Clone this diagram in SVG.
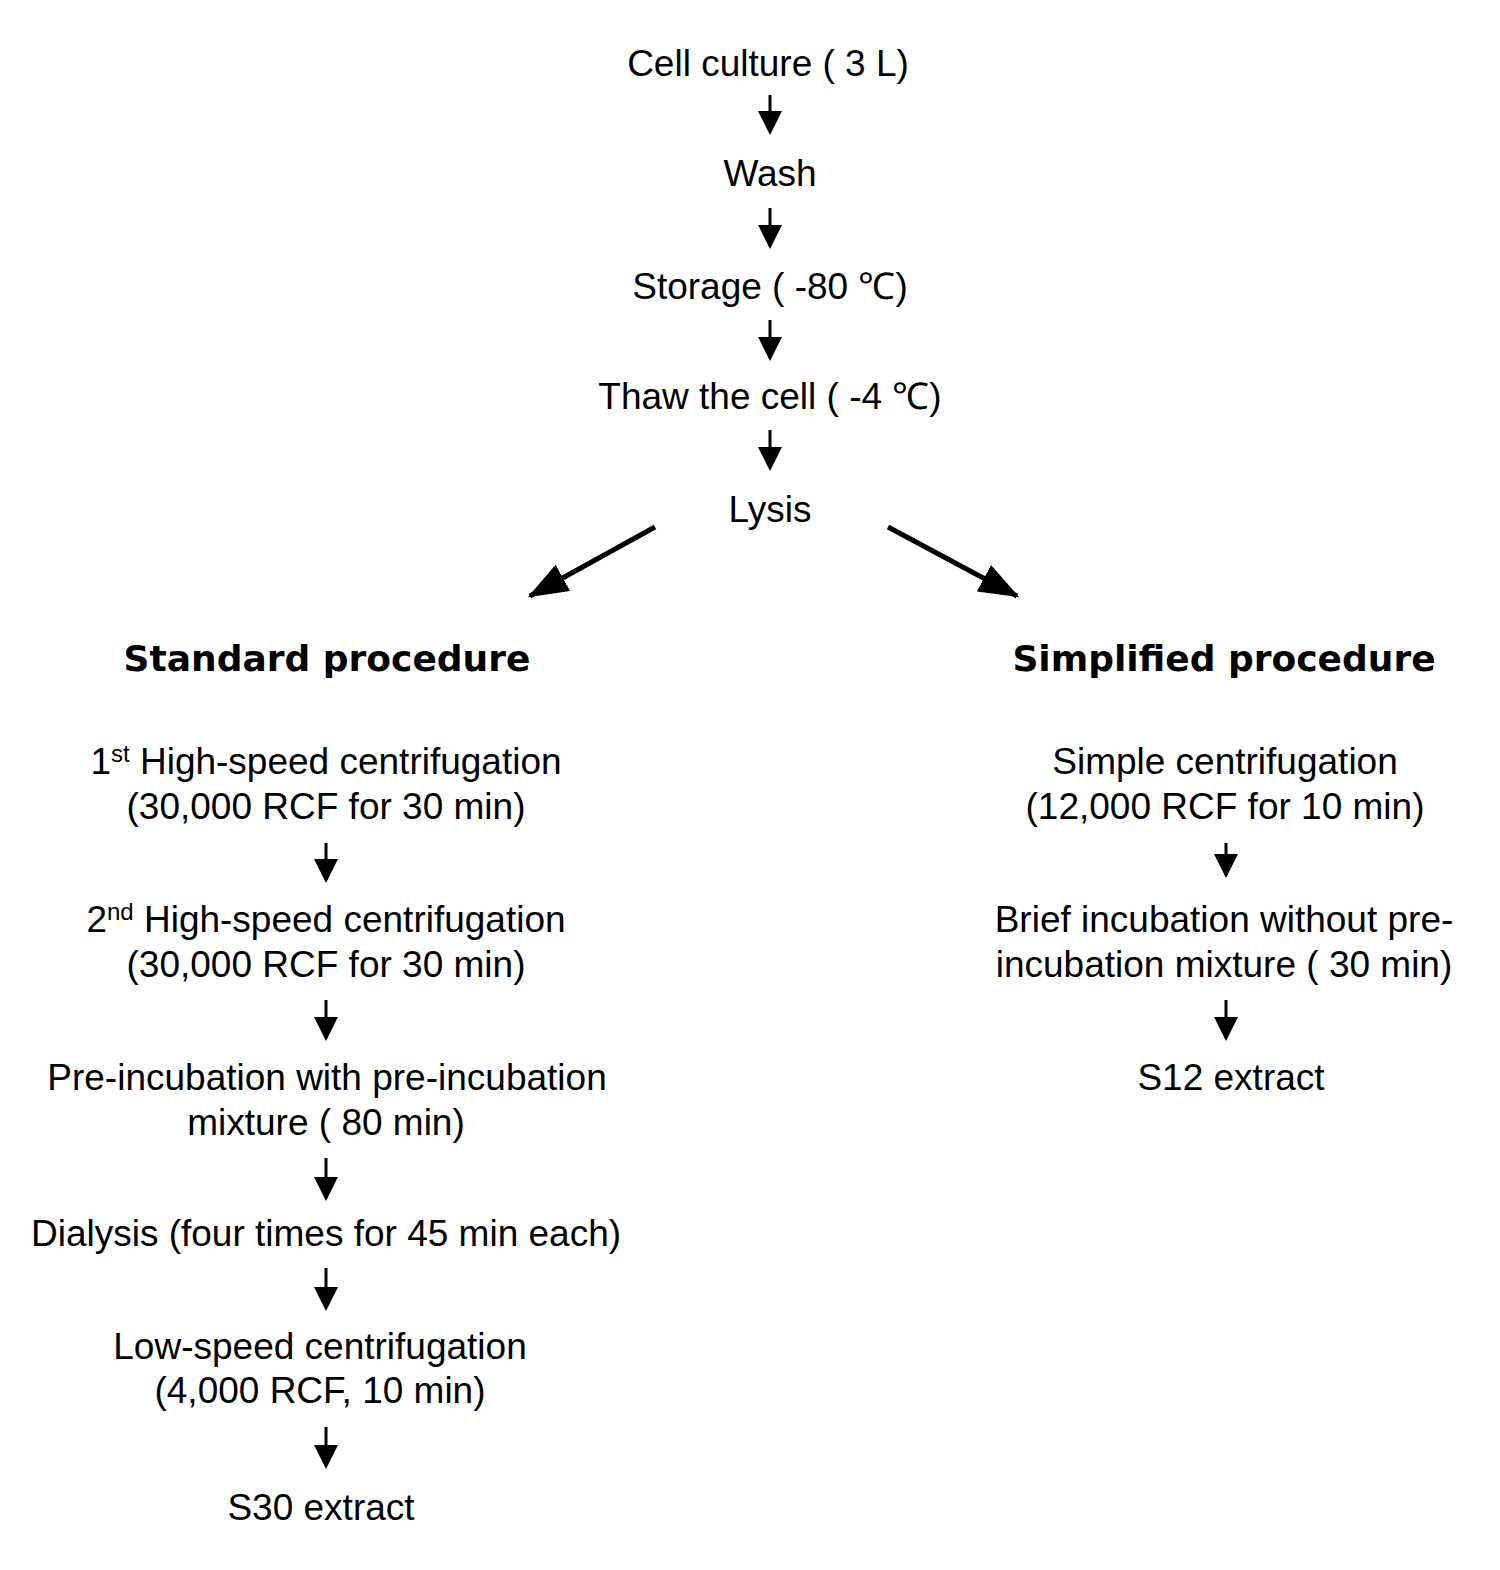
<svg xmlns="http://www.w3.org/2000/svg" width="1500" height="1570" viewBox="0 0 1500 1570">
<defs>
<style>
.t{font-family:"Liberation Sans",Arial,sans-serif;font-size:37px;fill:#000;text-anchor:middle}
.h{font-family:"DejaVu Sans","Liberation Sans",sans-serif;font-weight:bold;font-size:36px;fill:#000;text-anchor:middle}
.sup{font-size:24px}
.c{stroke:#000;stroke-width:3;fill:none}
.d{stroke:#000;stroke-width:5;fill:none}
</style>
<marker id="ah" markerWidth="8" markerHeight="8" refX="7" refY="4" orient="auto" markerUnits="strokeWidth" viewBox="0 0 8 8">
<path d="M0,0 L8,4 L0,8 z" fill="#000"/>
</marker>
<marker id="bh" markerWidth="8" markerHeight="6" refX="7.5" refY="3" orient="auto" markerUnits="strokeWidth" viewBox="0 0 8 6">
<path d="M0,0 L8,3 L0,6 z" fill="#000"/>
</marker>
</defs>
<rect width="1500" height="1570" fill="#fff"/>
<g id="n1"><text class="t" x="768" y="76">Cell culture ( 3 L)</text></g>
<g id="n2"><text class="t" x="770" y="186">Wash</text></g>
<g id="n3"><text class="t" x="770" y="299">Storage ( -80 ℃)</text></g>
<g id="n4"><text class="t" x="770" y="409">Thaw the cell ( -4 ℃)</text></g>
<g id="n5"><text class="t" x="770" y="522">Lysis</text></g>
<g id="h1"><text class="h" x="327" y="671">Standard procedure</text></g>
<g id="h2"><text class="h" x="1224" y="671">Simplified procedure</text></g>
<g id="l1"><text class="t" x="326" y="774">1<tspan class="sup" dy="-12">st</tspan><tspan dy="12"> High-speed centrifugation</tspan></text><text class="t" x="326" y="819">(30,000 RCF for 30 min)</text></g>
<g id="l2"><text class="t" x="326" y="932">2<tspan class="sup" dy="-12">nd</tspan><tspan dy="12"> High-speed centrifugation</tspan></text><text class="t" x="326" y="977">(30,000 RCF for 30 min)</text></g>
<g id="l3"><text class="t" x="327" y="1090">Pre-incubation with pre-incubation</text><text class="t" x="326" y="1135">mixture ( 80 min)</text></g>
<g id="l4"><text class="t" x="326" y="1246">Dialysis (four times for 45 min each)</text></g>
<g id="l5"><text class="t" x="320" y="1359">Low-speed centrifugation</text><text class="t" x="320" y="1403">(4,000 RCF, 10 min)</text></g>
<g id="l6"><text class="t" x="321" y="1520">S30 extract</text></g>
<g id="r1"><text class="t" x="1225" y="774">Simple centrifugation</text><text class="t" x="1225" y="819">(12,000 RCF for 10 min)</text></g>
<g id="r2"><text class="t" x="1224" y="932">Brief incubation without pre-</text><text class="t" x="1224" y="977">incubation mixture ( 30 min)</text></g>
<g id="r3"><text class="t" x="1231" y="1090">S12 extract</text></g>
<g id="connectors">
<path class="c" d="M770,95 V132" marker-end="url(#ah)"/>
<path class="c" d="M770,208 V246" marker-end="url(#ah)"/>
<path class="c" d="M770,320 V358" marker-end="url(#ah)"/>
<path class="c" d="M770,430 V468" marker-end="url(#ah)"/>
<path class="d" d="M655,527 L530,596" marker-end="url(#bh)"/>
<path class="d" d="M888,527 L1017,596" marker-end="url(#bh)"/>
<path class="c" d="M326,843 V880" marker-end="url(#ah)"/>
<path class="c" d="M326,1000 V1038" marker-end="url(#ah)"/>
<path class="c" d="M326,1158 V1198" marker-end="url(#ah)"/>
<path class="c" d="M326,1268 V1308" marker-end="url(#ah)"/>
<path class="c" d="M326,1427 V1466" marker-end="url(#ah)"/>
<path class="c" d="M1226,843 V875" marker-end="url(#ah)"/>
<path class="c" d="M1226,1000 V1038" marker-end="url(#ah)"/>
</g>
</svg>
